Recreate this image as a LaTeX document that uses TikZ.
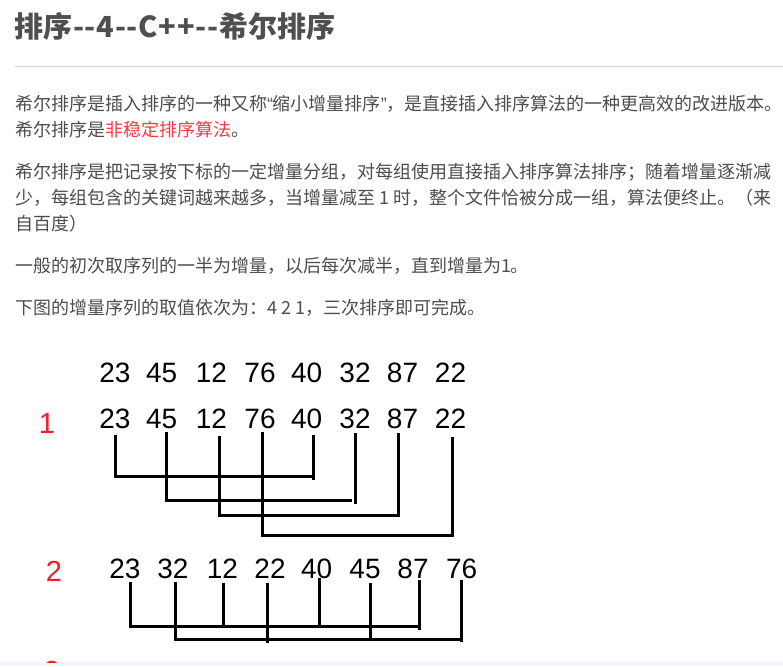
\documentclass[tikz,border=0pt]{standalone}
\usepackage{fontspec}
\setmainfont{Liberation Sans}
\newfontfamily\cjk{Noto Sans CJK SC}
\definecolor{bodyc}{HTML}{4D4D4D}
\definecolor{titlec}{HTML}{4F4F4F}
\definecolor{hred}{RGB}{245,60,70}
\definecolor{lred}{RGB}{240,30,40}
\definecolor{rulec}{RGB}{210,210,210}
\definecolor{stripc}{RGB}{244,245,250}
\newcommand{\tk}{\kern0.7pt}
\begin{document}
\begin{tikzpicture}[x=1pt,y=-1pt,
  txt/.style={inner sep=0pt,outer sep=0pt,anchor=base west,text=bodyc,font=\cjk\fontsize{18}{18}\selectfont},
  num/.style={inner sep=0pt,outer sep=0pt,anchor=base,font=\fontsize{28}{28}\selectfont},
  lab/.style={inner sep=0pt,outer sep=0pt,anchor=base,text=lred,font=\fontsize{29}{29}\selectfont},
  link/.style={line width=3pt,line join=miter}]
\useasboundingbox (0,0) rectangle (783,666);
\fill[white] (0,0) rectangle (783,666);
\fill[stripc] (0,662) rectangle (783,666);
% title and rule
\node[anchor=base west,inner sep=0pt,outer sep=0pt,text=titlec,font=\cjk\bfseries\fontsize{29}{29}\selectfont] (title) at (14.5,37.3) {排序\tk{}-\tk{}-\tk{}4\tk{}-\tk{}-\tk{}C\tk{}+\tk{}+\tk{}-\tk{}-\tk{}希尔排序};
\draw[rulec,line width=1pt] (15,66.7) -- (783,66.7);
% paragraphs
\node[txt] (l1) at (15,110.4) {希尔排序是插入排序的一种又称{\rmfamily“}缩小增量排序{\rmfamily”}，是直接插入排序算法的一种更高效的改进版本。};
\node[txt] (l2) at (15,136.7) {希尔排序是\textcolor{hred}{非稳定排序算法}。};
\node[txt] (l3) at (15,178.7) {希尔排序是把记录按下标的一定增量分组，对每组使用直接插入排序算法排序；随着增量逐渐减};
\node[txt] (l4) at (15,204.7) {少，每组包含的关键词越来越多，当增量减至 1 时，整个文件恰被分成一组，算法便终止。（来};
\node[txt] (l5) at (15,230.5) {自百度）};
\node[txt] (l6) at (15,272) {一般的初次取序列的一半为增量，以后每次减半，直到增量为1。};
\node[txt] (l7) at (15,314.7) {下图的增量序列的取值依次为：4 2 1，三次排序即可完成。};
% number rows
\foreach \x/\v [count=\i] in {115/23,161.7/45,211.5/12,260/76,306.7/40,355/32,402.5/87,450.5/22}{
  \node[num] (a\i) at (\x,382) {\v};
  \node[num] (b\i) at (\x,428.5) {\v};
}
\foreach \x/\v [count=\i] in {125/23,173/32,222.5/12,270/22,316.7/40,365/45,413/87,461.7/76}{
  \node[num] (c\i) at (\x,578) {\v};
}
\node[lab] (p1) at (47,433) {1};
\node[lab] (p2) at (54,581.7) {2};
\begin{scope}
\clip (0,0) rectangle (783,662);
\node[lab] (p3) at (52,681) {3};
\end{scope}
% pass 1 brackets (gap 4)
\draw[link] (115.7,435) -- (115.7,476.7) -- (313,476.7);
\draw[link] (313,435) -- (313,480);
\draw[link] (166.7,431.7) -- (166.7,500.7) -- (352,500.7);
\draw[link] (355.7,433) -- (355.7,504);
\draw[link] (219,436) -- (219,515) -- (398,515) -- (398,433.3);
\draw[link] (262.3,431.7) -- (262.3,535) -- (452.3,535) -- (452.3,437);
% pass 2 brackets (gap 2)
\draw[link] (130,581.7) -- (130,626) -- (419.3,626);
\draw[link] (223.3,583) -- (223.3,626);
\draw[link] (319.3,578) -- (319.3,628);
\draw[link] (419.3,580) -- (419.3,630);
\draw[link] (175,581.7) -- (175,639.5) -- (461.7,639.5);
\draw[link] (267.3,583) -- (267.3,643);
\draw[link] (370,583) -- (370,640);
\draw[link] (461.7,580) -- (461.7,641.7);
\end{tikzpicture}
\end{document}
